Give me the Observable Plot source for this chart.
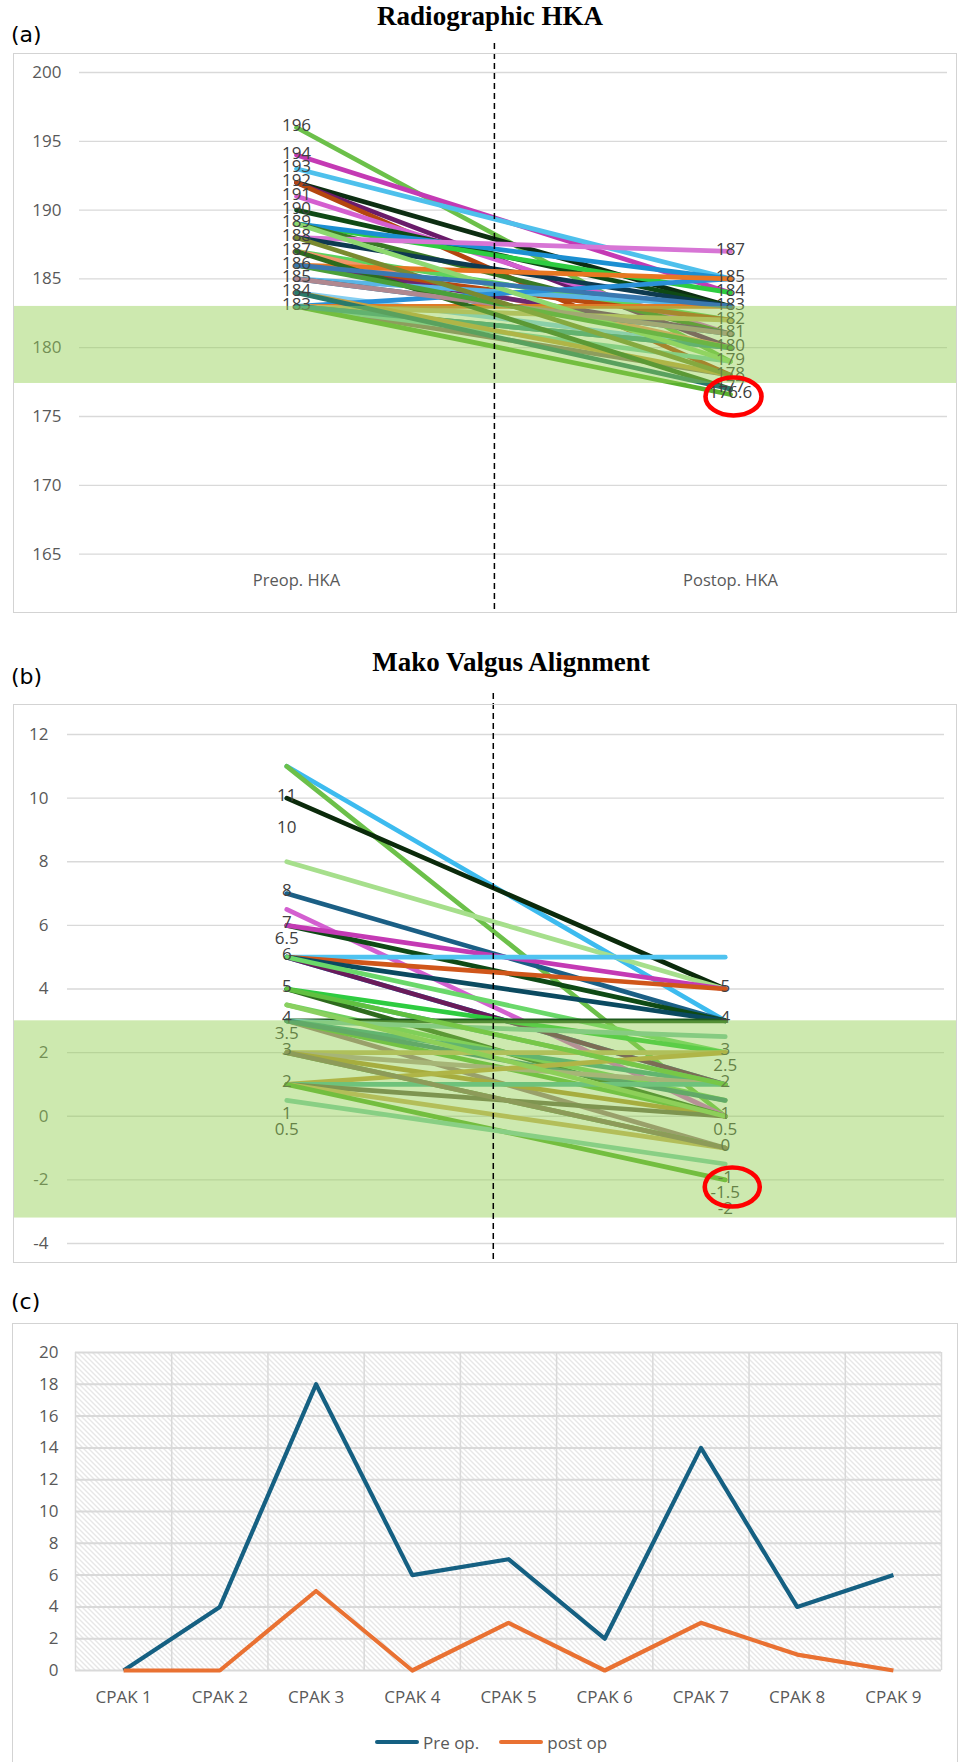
<!DOCTYPE html>
<html>
<head>
<meta charset="utf-8">
<script src="https://cdn.jsdelivr.net/npm/d3@7"></script>
<script src="https://cdn.jsdelivr.net/npm/@observablehq/plot@0.6"></script>
<style>
  body { margin: 0; background: #fff; }
  #page { position: relative; width: 958px; height: 1762px; overflow: hidden; font-family: "Open Sans", sans-serif; background: #fff; }
  .abs { position: absolute; }
  .frame { position: absolute; border: 1px solid #d3d3d3; box-sizing: border-box; pointer-events: none; }
  #legend { position: absolute; left: 375px; top: 1730px; height: 24px; display: flex; align-items: center; font-size: 17px; color: #595959; white-space: nowrap; }
  #legend .sw { display: inline-block; width: 44px; height: 4px; border-radius: 2px; margin-right: 4px; }
</style>
</head>
<body>
<div id="page">
  <svg width="0" height="0" style="position:absolute">
    <defs>
      <pattern id="hatch" patternUnits="userSpaceOnUse" width="5" height="5">
        <rect width="5" height="5" fill="#ffffff"/>
        <path d="M-1,-1 L6,6 M-1,4 L1,6 M4,-1 L6,1" stroke="#cfcfcf" stroke-width="1"/>
      </pattern>
    </defs>
  </svg>
  <svg class="abs" style="left:0;top:0" width="958" height="1762" id="overlay">
    <text x="11" y="42" font-family="DejaVu Sans" font-size="22" fill="#000">(a)</text>
    <text x="490" y="25" text-anchor="middle" font-family="Liberation Serif" font-weight="bold" font-size="27" fill="#000">Radiographic HKA</text>
    <text x="11" y="684" font-family="DejaVu Sans" font-size="22" fill="#000">(b)</text>
    <text x="511" y="671" text-anchor="middle" font-family="Liberation Serif" font-weight="bold" font-size="27" fill="#000">Mako Valgus Alignment</text>
    <text x="11" y="1309" font-family="DejaVu Sans" font-size="22" fill="#000">(c)</text>
  </svg>
  <div id="pa" class="abs" style="left:0;top:40px"></div>
  <div class="frame" style="left:13px;top:53px;width:944px;height:560px"></div>
  <div id="pb" class="abs" style="left:0;top:690px"></div>
  <div class="frame" style="left:13px;top:704px;width:944px;height:559px"></div>
  <div id="pc" class="abs" style="left:0;top:1320px"></div>
  <div class="frame" style="left:12px;top:1323px;width:946px;height:470px"></div>
  <div id="legend">
    <span class="sw" style="background:#156082"></span><span>Pre op.</span>
    <span class="sw" style="background:#E97132;margin-left:20px"></span><span>post op</span>
  </div>
</div>
<script>
// ---------------- Panel (a): Radiographic HKA ----------------
const hkaCategories = ["Preop. HKA", "Postop. HKA"];
const hkaTicks = [165, 170, 175, 180, 185, 190, 195, 200];
const hkaPre  = [196, 194, 193, 192, 192, 192, 191, 190, 189, 189, 189, 188, 188, 187, 187, 186, 186, 185, 185, 184, 183, 186, 183, 183, 183, 183, 183, 183, 183, 184, 187, 189, 185, 186, 184, 188, 186];
const hkaPost = [179, 184, 185, 183, 180, 178, 181, 183, 184, 185, 181, 187, 183, 182, 180, 182, 181, 183, 181, 180, 185, 185, 183, 182, 180, 178, 179, 176.6, 180, 178, 177, 179, 181, 180, 177, 178, 183];
const hkaColors = ["#6cc04a", "#c43ab4", "#4ec0ec", "#0d2e12", "#6a1b6a", "#b5460f", "#d45fd0", "#0f4a15", "#2ecc40", "#1b8fd2", "#3a7a25", "#d775d5", "#0e3a50", "#5ed35e", "#f0956a", "#b84a10", "#6b2870", "#5ab5e6", "#1a6e99", "#86cff2", "#2a90d8", "#e87722", "#e07a28", "#c9b86a", "#4e8a6a", "#8a7468", "#7dcfac", "#5ab030", "#3a9a8a", "#c8a040", "#2e6b1e", "#8ed870", "#b08890", "#4aa03a", "#2a7a6a", "#7a8a30", "#3a78b0"];
const hkaBand = [177.4, 183];        // shaded target range
const hkaDivider = 0.956;            // dashed divider on the category axis (0..2)
const hkaHighlight = [{cat: 1, value: 176.6}];

// ---------------- Panel (b): Mako Valgus Alignment ----------------
const valgusTicks = [-4, -2, 0, 2, 4, 6, 8, 10, 12];
const valgusPre  = [11, 11, 10, 8, 7, 6.5, 6, 6, 5, 5, 5, 5, 5, 5, 4, 4, 4, 3.5, 3, 3, 3, 3, 3, 3, 2, 2, 2, 2, 1, 1, 1, 1, 1, 0.5, 3.5, 2, 4];
const valgusPost = [3, 0, 4, 4, 3, 0, 3, 4, 5, 4, 3, 1, 1, 2, 1, 2, 0, 0.5, 3, 2.5, 1, -1, 0, 0.5, 2, 1, -1, 0, 2, 1, 0, -1, -2, -1.5, 0, -1, 1];
const valgusColors = ["#3dbbef", "#6cc04a", "#0b2a0b", "#a6df8c", "#1b5f85", "#d35fd0", "#0f4a15", "#c43ab4", "#4fc3f0", "#d0561a", "#0b4a60", "#1a9ad6", "#6a1b5a", "#6ad86a", "#40b0a0", "#2ecc40", "#2e6b1e", "#72d060", "#1e5a1e", "#7cc8aa", "#3aa08a", "#a07880", "#5ab83a", "#3a8a7a", "#c8b464", "#b8a098", "#4a9a3a", "#b89030", "#c8a040", "#50b8a0", "#6e6450", "#d0b060", "#5ab030", "#80d0b0", "#8ad060", "#8a7060", "#60c040"];
const valgusBand = [-3.2, 3];
const valgusDivider = 0.971;
const valgusHighlight = [{cat: 1, value: -1.5}];

// ---------------- Panel (c): CPAK ----------------
const cpakCategories = ["CPAK 1", "CPAK 2", "CPAK 3", "CPAK 4", "CPAK 5", "CPAK 6", "CPAK 7", "CPAK 8", "CPAK 9"];
const cpakTicks = [0, 2, 4, 6, 8, 10, 12, 14, 16, 18, 20];
const preOp  = [0, 4, 18, 6, 7, 2, 14, 4, 6];
const postOp = [0, 0, 5, 0, 3, 0, 3, 1, 0];

// ---------------- helpers ----------------
function ellipseSymbol(rx, ry) {
  return {
    draw(ctx) {
      const k = 0.5523;
      ctx.moveTo(rx, 0);
      ctx.bezierCurveTo(rx, ry * k, rx * k, ry, 0, ry);
      ctx.bezierCurveTo(-rx * k, ry, -rx, ry * k, -rx, 0);
      ctx.bezierCurveTo(-rx, -ry * k, -rx * k, -ry, 0, -ry);
      ctx.bezierCurveTo(rx * k, -ry, rx, -ry * k, rx, 0);
      ctx.closePath();
    }
  };
}
function pairRows(pre, post, colors) {
  const rows = [];
  pre.forEach((v, i) => {
    rows.push({id: i, x: 0.5, y: v, color: colors[i]});
    rows.push({id: i, x: 1.5, y: post[i], color: colors[i]});
  });
  return rows;
}
function uniqueLabels(rows) {
  const seen = new Set();
  return rows.filter(r => {
    const k = r.x + "|" + r.y;
    if (seen.has(k)) return false;
    seen.add(k);
    return true;
  });
}
const baseStyle = {fontFamily: "'Open Sans', sans-serif", fontSize: "17px", background: "transparent", overflow: "visible"};

// ---------------- Panel (a) plot ----------------
const hkaRows = pairRows(hkaPre, hkaPost, hkaColors);
const plotA = Plot.plot({
  width: 958, height: 575,
  marginLeft: 13, marginRight: 2, marginTop: 3, marginBottom: 3,
  x: {domain: [0, 2], range: [79, 947], axis: null},
  y: {domain: [165, 200], range: [513.6, 32], axis: null},
  color: {type: "identity"},
  style: baseStyle,
  marks: [
    Plot.ruleY(hkaTicks, {y: d => d, x1: 0, x2: 2, stroke: "#d9d9d9", strokeWidth: 1.3}),
    Plot.text(hkaTicks, {y: d => d, text: d => String(d), frameAnchor: "left", textAnchor: "end", dx: 48, fill: "#595959", fontSize: 17}),
    Plot.text(hkaCategories, {x: (d, i) => i + 0.5, text: d => d, frameAnchor: "bottom", lineAnchor: "middle", dy: -32, fill: "#595959", fontSize: 16.5}),
    Plot.line(hkaRows, {x: "x", y: "y", z: "id", stroke: "color", strokeWidth: 4.7}),
    Plot.text(uniqueLabels(hkaRows), {x: "x", y: "y", text: d => String(d.y), fill: "#404040", fontSize: 17, dy: -2}),
    Plot.rect([hkaBand], {y1: d => d[0], y2: d => d[1], fill: "#92D050", fillOpacity: 0.46}),
    Plot.ruleX([hkaDivider], {stroke: "#000", strokeWidth: 1.5, strokeDasharray: "6,4"}),
    Plot.dot(hkaHighlight, {x: d => d.cat + 0.5, y: "value", symbol: ellipseSymbol(28, 19), r: 20, fill: "none", stroke: "#ff0000", strokeWidth: 4.6, dx: 3, dy: 2})
  ]
});
document.getElementById("pa").appendChild(plotA);

// ---------------- Panel (b) plot ----------------
const valgusRows = pairRows(valgusPre, valgusPost, valgusColors);
const plotB = Plot.plot({
  width: 958, height: 575,
  marginLeft: 13, marginRight: 2, marginTop: 3, marginBottom: 3,
  x: {domain: [0, 2], range: [67, 944], axis: null},
  y: {domain: [-4, 12], range: [553, 44], axis: null},
  color: {type: "identity"},
  style: baseStyle,
  marks: [
    Plot.ruleY(valgusTicks, {y: d => d, x1: 0, x2: 2, stroke: "#d9d9d9", strokeWidth: 1.3}),
    Plot.text(valgusTicks, {y: d => d, text: d => String(d), frameAnchor: "left", textAnchor: "end", dx: 35, fill: "#595959", fontSize: 17}),
    Plot.line(valgusRows, {x: "x", y: "y", z: "id", stroke: "color", strokeWidth: 4.7}),
    Plot.text(uniqueLabels(valgusRows), {x: "x", y: "y", text: d => String(d.y), fill: "#404040", fontSize: 17, dy: 29}),
    Plot.rect([valgusBand], {y1: d => d[0], y2: d => d[1], fill: "#92D050", fillOpacity: 0.46}),
    Plot.ruleX([valgusDivider], {stroke: "#000", strokeWidth: 1.5, strokeDasharray: "6,4"}),
    Plot.dot(valgusHighlight, {x: d => d.cat + 0.5, y: "value", symbol: ellipseSymbol(27.5, 19.5), r: 20, fill: "none", stroke: "#ff0000", strokeWidth: 4.6, dx: 7, dy: 23})
  ]
});
document.getElementById("pb").appendChild(plotB);

// ---------------- Panel (c) plot ----------------
const preRows = cpakCategories.map((c, i) => ({series: "Pre op.", x: i + 0.5, y: preOp[i]}));
const postRows = cpakCategories.map((c, i) => ({series: "post op", x: i + 0.5, y: postOp[i]}));
const cpakBounds = [0, ...cpakCategories.map((c, i) => i + 1)];
const plotC = Plot.plot({
  width: 958, height: 442,
  marginLeft: 75, marginRight: 17, marginTop: 32, marginBottom: 92,
  x: {domain: [0, cpakCategories.length], axis: null},
  y: {domain: [0, 20], axis: null},
  style: baseStyle,
  marks: [
    Plot.frame({fill: "url(#hatch)", stroke: null}),
    Plot.ruleY(cpakTicks, {stroke: "#d9d9d9", strokeWidth: 2}),
    Plot.ruleX(cpakBounds, {stroke: "#d9d9d9", strokeWidth: 1.5}),
    Plot.text(cpakTicks, {y: d => d, text: d => String(d), frameAnchor: "left", textAnchor: "end", dx: -17, fill: "#595959", fontSize: 17}),
    Plot.text(cpakCategories, {x: (d, i) => i + 0.5, text: d => d, frameAnchor: "bottom", lineAnchor: "middle", dy: 27, fill: "#595959", fontSize: 17}),
    Plot.line(preRows, {x: "x", y: "y", stroke: "#156082", strokeWidth: 4.2, strokeLinecap: "butt"}),
    Plot.line(postRows, {x: "x", y: "y", stroke: "#E97132", strokeWidth: 4.2, strokeLinecap: "butt"})
  ]
});
document.getElementById("pc").appendChild(plotC);
</script>
</body>
</html>
